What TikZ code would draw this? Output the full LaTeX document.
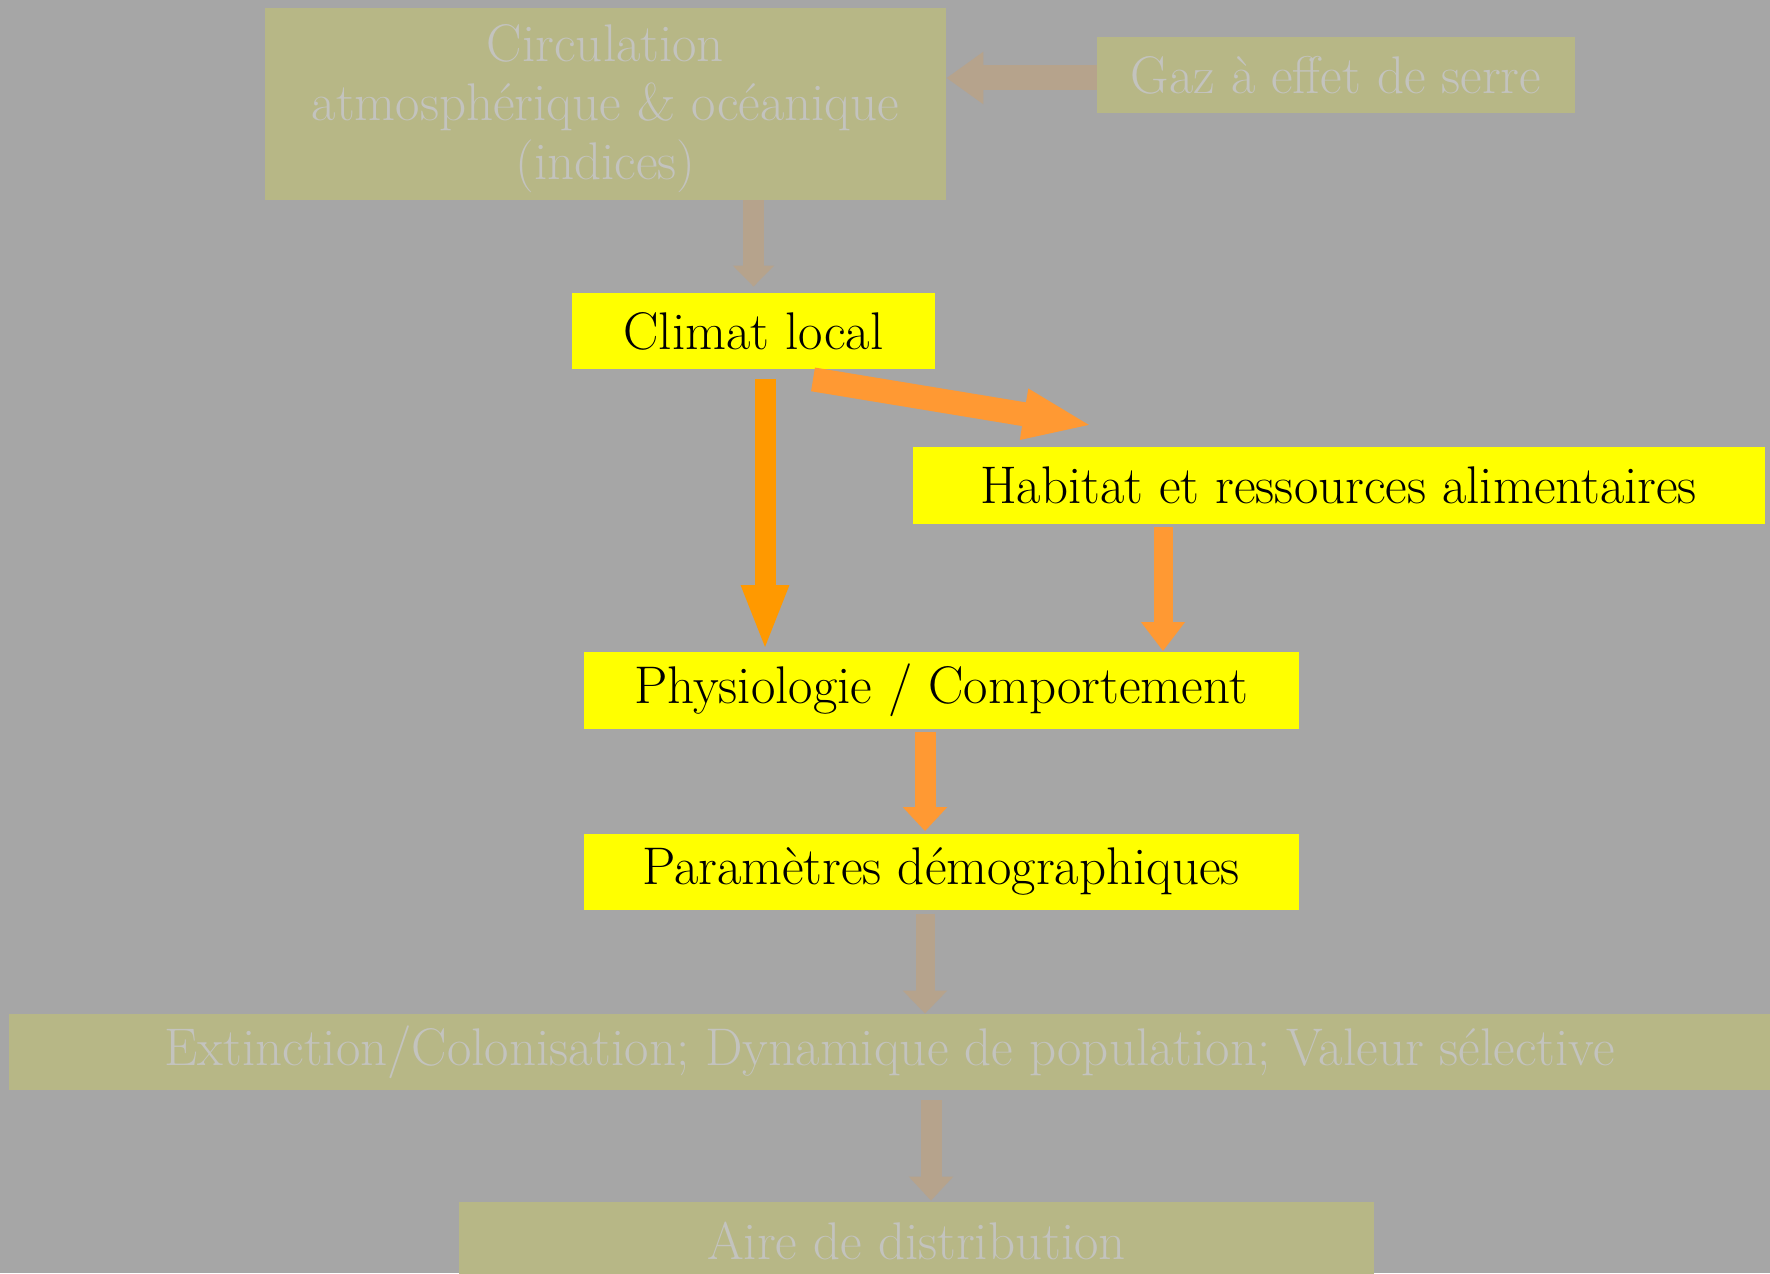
\documentclass[tikz,border=0pt]{standalone}
\usetikzlibrary{arrows.meta}
\definecolor{bggray}{HTML}{A6A6A6}
\definecolor{olive}{HTML}{B7B786}
\definecolor{fadetext}{HTML}{C3C3BE}
\definecolor{fadearrow}{HTML}{B6A38C}
\definecolor{orangeA}{HTML}{FF9900}
\definecolor{orangeB}{HTML}{FF9933}
\definecolor{boxyellow}{HTML}{FFFF00}
\tikzset{
  fadebox/.style={fill=olive, text=fadetext, inner sep=0pt, align=center, font=\fontsize{26.5}{29}\selectfont},
  livebox/.style={fill=boxyellow, text=black, inner sep=0pt, align=center, font=\fontsize{26.5}{29}\selectfont},
  blk/.style n args={3}{line width=#1, -{Triangle[width=#2,length=#3]}},
}
\begin{document}
\begin{tikzpicture}[x=0.5pt,y=-0.5pt]
\fill[bggray] (0,0) rectangle (1770,1273);
\path[use as bounding box] (0,0) rectangle (1770,1273);
\begin{scope}
\clip (0,0) rectangle (1770,1273);
\node[fadebox, font=\fontsize{26.5}{29.5}\selectfont, minimum width=340.5pt, minimum height=96pt] (circ) at (605.5,104) {\rule{0pt}{23pt}Circulation\\atmosphérique \& océanique\\(indices)};
\node[fadebox, minimum width=239pt, minimum height=38pt] (gaz) at (1336,75) {Gaz à effet de serre};
\node[livebox, minimum width=181.5pt, minimum height=38pt] (climat) at (753.5,331) {Climat local};
\node[livebox, minimum width=426pt, minimum height=38.5pt] (habitat) at (1338.5,485.5) {Habitat et ressources alimentaires};
\node[livebox, minimum width=357.5pt, minimum height=38.5pt] (physio) at (941,690) {Physiologie / Comportement};
\node[livebox, minimum width=357.5pt, minimum height=38pt] (param) at (941,871.5) {Paramètres démographiques};
\node[fadebox, minimum width=880.5pt, minimum height=38pt] (ext) at (889.5,1052) {Extinction/Colonisation; Dynamique de population; Valeur sélective};
\node[fadebox, minimum width=457.5pt, minimum height=38.5pt] (aire) at (916.5,1240.5) {Aire de distribution};
\end{scope}
% arrows
\draw[fadearrow, blk={12.5pt}{25pt}{18.5pt}] ([yshift=-1.5pt]gaz.west) -- ([yshift=-1.5pt]circ.east |- gaz.west);
\draw[fadearrow, blk={10.5pt}{20pt}{10.5pt}, shorten >=3pt] (circ.south -| climat.north) -- (climat.north);
\draw[orangeA, blk={10.5pt}{21.5pt}{33pt}, shorten <=5pt] ([xshift=5.75pt]climat.south) -- ([xshift=5.75pt]climat.south |- physio.north);
\draw[orangeB, blk={12pt}{23pt}{35pt}] ([shift={(59.5,10)}]climat.south) -- ([shift={(181,-21)}]habitat.north west);
\draw[orangeB, blk={9.5pt}{21pt}{14.5pt}, shorten <=1.5pt] ([xshift=-87.75pt]habitat.south) -- ([xshift=-87.75pt]habitat.south |- physio.north);
\draw[orangeB, blk={10.5pt}{21.5pt}{12pt}, shorten <=1.5pt, shorten >=1pt] ([xshift=-8pt]physio.south) -- ([xshift=-8pt]physio.south |- param.north);
\draw[fadearrow, blk={9.5pt}{21.5pt}{11.5pt}, shorten <=2pt] ([xshift=-8pt]param.south) -- ([xshift=-8pt]param.south |- ext.north);
\draw[fadearrow, blk={10.5pt}{21.5pt}{12pt}, shorten <=5pt, shorten >=0.5pt] ([xshift=7.25pt]aire.north |- ext.south) -- ([xshift=7.25pt]aire.north);
\end{tikzpicture}
\end{document}
